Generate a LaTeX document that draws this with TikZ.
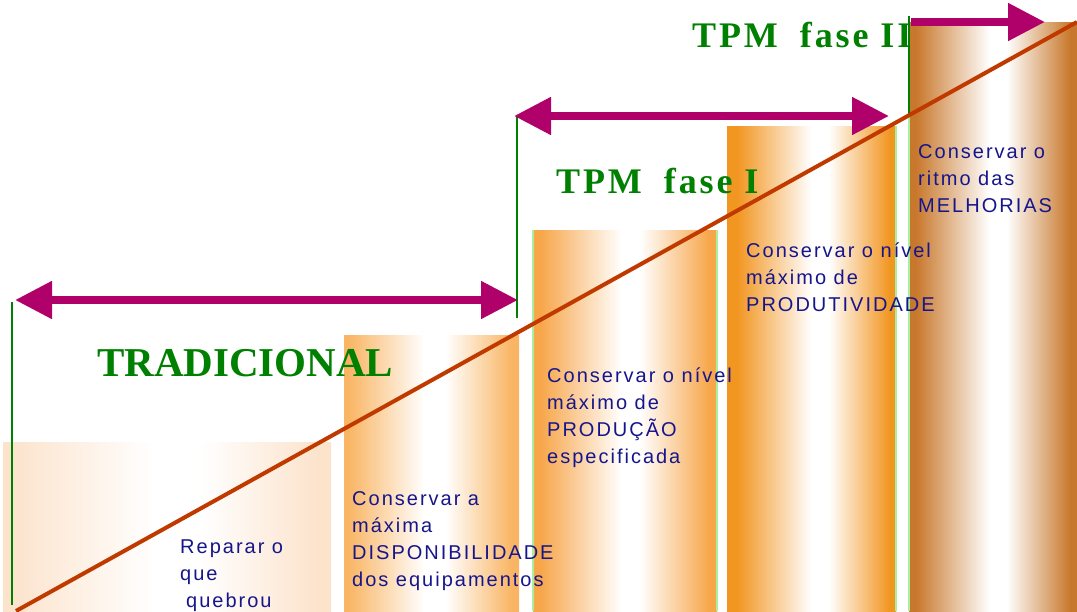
\documentclass[tikz,border=0pt]{standalone}
\usepackage{fontspec}
\setmainfont{Liberation Serif}
\newfontfamily\barfont[LetterSpace=10]{Liberation Sans}
\newfontfamily\phasefont[LetterSpace=8]{Liberation Serif}
\usetikzlibrary{arrows.meta}

\definecolor{edgeA}{HTML}{FCE3CC}
\definecolor{edgeB}{HTML}{F9B563}
\definecolor{edgeC}{HTML}{F7A64A}
\definecolor{edgeD}{HTML}{F29622}
\definecolor{edgeE}{HTML}{C8782C}
\definecolor{phasegreen}{HTML}{008000}
\definecolor{rimgreen}{HTML}{A8F0A0}
\definecolor{spanmagenta}{HTML}{B0006A}
\definecolor{trendred}{HTML}{C03A00}
\definecolor{textnavy}{HTML}{16168C}

% horizontal bar shadings: solid edge, white core, solid edge
\pgfdeclarehorizontalshading{barA}{100bp}{color(0bp)=(edgeA); color(26bp)=(edgeA); color(48bp)=(white); color(55bp)=(white); color(73bp)=(edgeA); color(100bp)=(edgeA)}
\pgfdeclarehorizontalshading{barB}{100bp}{color(0bp)=(edgeB); color(26bp)=(edgeB); color(48bp)=(white); color(54bp)=(white); color(73bp)=(edgeB); color(100bp)=(edgeB)}
\pgfdeclarehorizontalshading{barC}{100bp}{color(0bp)=(edgeC); color(27bp)=(edgeC); color(49bp)=(white); color(54bp)=(white); color(73bp)=(edgeC); color(100bp)=(edgeC)}
\pgfdeclarehorizontalshading{barD}{100bp}{color(0bp)=(edgeD); color(28bp)=(edgeD); color(50bp)=(white); color(55bp)=(white); color(73bp)=(edgeD); color(100bp)=(edgeD)}
\pgfdeclarehorizontalshading{barE}{100bp}{color(0bp)=(edgeE); color(27bp)=(edgeE); color(49bp)=(white); color(54bp)=(white); color(73bp)=(edgeE); color(100bp)=(edgeE)}

\tikzset{
  span/.style={draw=spanmagenta, line width=8pt},
  marker/.style={draw=phasegreen, line width=2pt},
  rim/.style={draw=rimgreen, line width=1.5pt},
  phase/.style={text=phasegreen, font=\phasefont\bfseries\fontsize{36}{36}\selectfont, anchor=base west, inner sep=0pt},
  stage/.style={text=textnavy, font=\barfont\fontsize{20}{27}\selectfont, anchor=base west, inner sep=0pt, align=left},
}

\begin{document}
\begin{tikzpicture}[x=1pt, y=-1pt]
  \useasboundingbox (0,0) rectangle (1077,611);
  \fill[white] (0,0) rectangle (1077,611);

  % the five stage bars
  \shade[shading=barA] (3,442) rectangle (331,611);
  \shade[shading=barB] (344,335) rectangle (519,611);
  \shade[shading=barC] (533,230) rectangle (717,611);
  \shade[shading=barD] (727,126) rectangle (896,611);
  \shade[shading=barE] (909,22) rectangle (1077,611);

  % light rims on the upper bars
  \draw[rim] (533,230) -- (533,611);
  \draw[rim] (717,230) -- (717,611);
  \draw[rim] (896,126) -- (896,611);
  \draw[rim] (909,115) -- (909,611);

  % phase boundary markers
  \coordinate (m1top) at (12,302);
  \coordinate (m1bot) at (12,605);
  \coordinate (m2top) at (517,117);
  \coordinate (m2bot) at (517,318);
  \coordinate (m3top) at (909,16);
  \coordinate (m3bot) at (909,115);
  \draw[marker] (m1top) -- (m1bot);
  \draw[marker] (m2top) -- (m2bot);
  \draw[marker] (m3top) -- (m3bot);

  % rising trend line
  \coordinate (trendA) at (16,611);
  \coordinate (trendB) at (1077,22);
  \begin{scope}
    \clip (0,0) rectangle (1077,611);
    \draw[draw=trendred, line width=4pt] (trendA) -- (trendB);
  \end{scope}

  % phase spans
  \coordinate (tradL) at (15,300);
  \coordinate (tradR) at (518,300);
  \coordinate (faseL) at (514,116);
  \coordinate (faseR) at (889,116);
  \coordinate (fase2L) at (911,22);
  \coordinate (fase2R) at (1045,22);
  \draw[span, {Triangle[length=37pt,width=36pt]}-{Triangle[length=37pt,width=36pt]}] (tradL) -- (tradR);
  \draw[span, {Triangle[length=37pt,width=36pt]}-{Triangle[length=37pt,width=36pt]}] (faseL) -- (faseR);
  \draw[span, -{Triangle[length=37pt,width=36pt]}] (fase2L) -- (fase2R);

  % phase names
  \node[phase, font=\bfseries\fontsize{41}{41}\selectfont] (trad) at (97,376) {TRADICIONAL};
  \node[phase] (tpm1) at (556,193) {TPM\hspace{22pt}fase I};
  \node[phase] (tpm2) at (692,47) {TPM\hspace{22pt}fase II};

  % stage descriptions (anchored at the baseline of their last line)
  \node[stage] (s1) at (180,607) {Reparar o\\que\\\hspace*{6pt}quebrou};
  \node[stage] (s2) at (352,586) {Conservar a\\máxima\\DISPONIBILIDADE\\dos equipamentos};
  \node[stage] (s3) at (547,463) {Conservar o nível\\máximo de\\PRODUÇÃO\\especificada};
  \node[stage] (s4) at (746,311) {Conservar o nível\\máximo de\\PRODUTIVIDADE};
  \node[stage] (s5) at (918,212) {Conservar o\\ritmo das\\MELHORIAS};
\end{tikzpicture}
\end{document}
